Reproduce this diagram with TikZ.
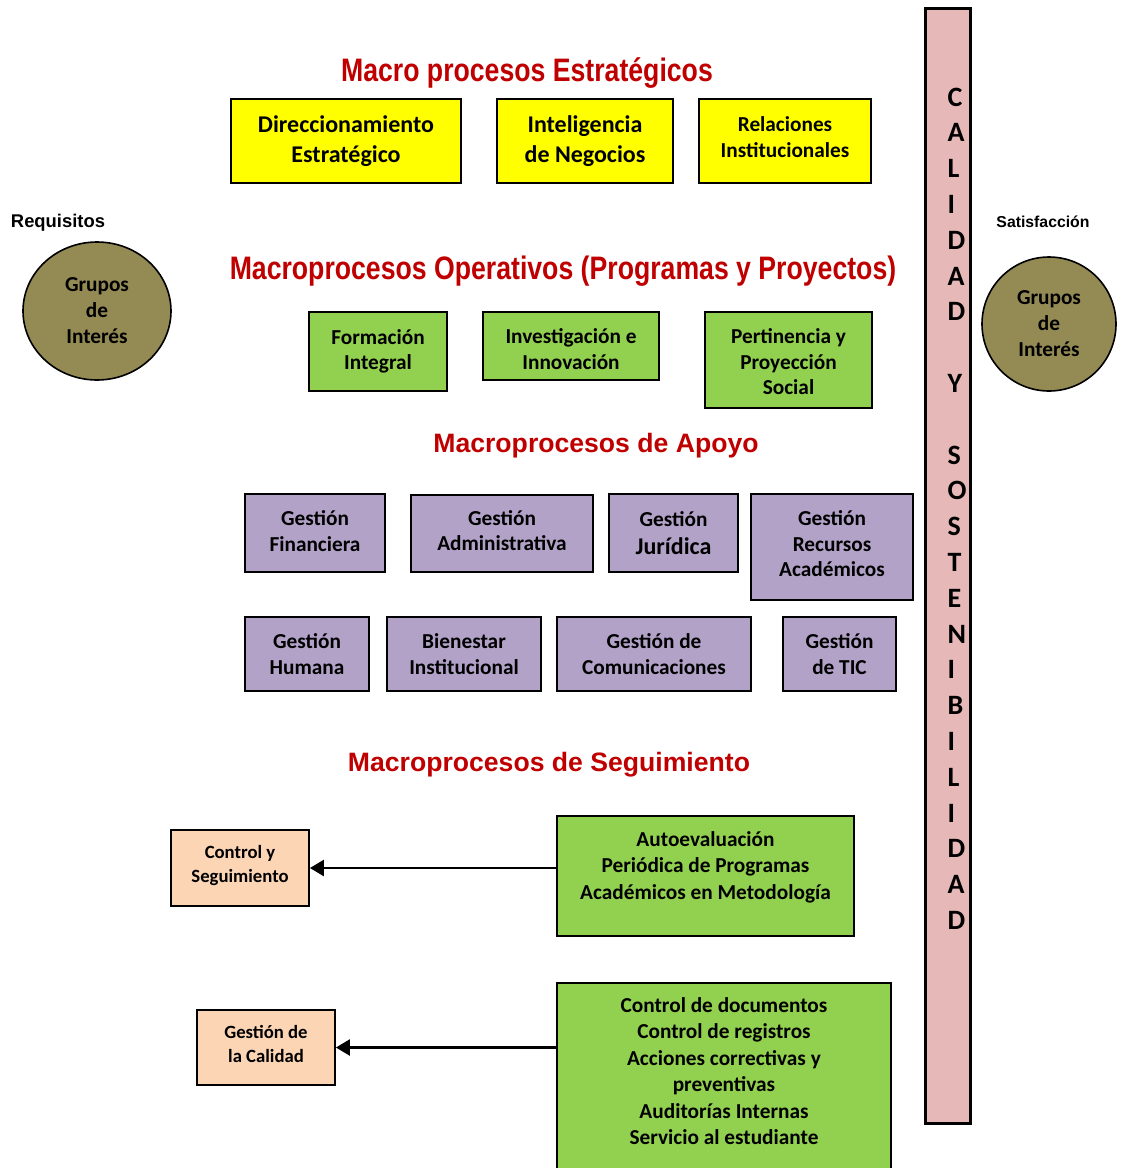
\documentclass[tikz,border=0pt]{standalone}
\usepackage{fontspec}
\setmainfont{Carlito}
\newfontfamily\arialf{Liberation Sans}
\newfontfamily\narrowf{Liberation Sans}[FakeStretch=0.82]
\usetikzlibrary{arrows.meta,shapes.geometric}
\definecolor{hred}{HTML}{C00000}
\definecolor{pinkbar}{HTML}{E6B9B8}
\definecolor{olivec}{HTML}{948A54}
\definecolor{yel}{HTML}{FFFF00}
\definecolor{grn}{HTML}{92D050}
\definecolor{purp}{HTML}{B2A2C7}
\definecolor{peach}{HTML}{FCD5B5}
\begin{document}
\begin{tikzpicture}[x=1pt,y=-1pt,
  box/.style={draw=black, line width=1.8pt, inner sep=0pt, align=center},
  ybox/.style={box, fill=yel},
  gbox/.style={box, fill=grn},
  pbox/.style={box, fill=purp},
  obox/.style={box, fill=peach},
  circ/.style={ellipse, draw=black, line width=1.6pt, fill=olivec, inner sep=0pt, align=center,
     font=\bfseries\fontsize{21.3}{26}\selectfont},
  fA/.style={font=\bfseries\fontsize{24}{30}\selectfont},
  fB/.style={font=\bfseries\fontsize{21.3}{26}\selectfont},
  fB2/.style={font=\bfseries\fontsize{21.3}{25.5}\selectfont},
  fC/.style={font=\bfseries\fontsize{18.7}{24}\selectfont},
  fL/.style={font=\bfseries\fontsize{21.3}{26.5}\selectfont},
  tx/.style={align=center, inner sep=0pt},
  headA/.style={anchor=base, text=hred, font=\narrowf\bfseries\fontsize{32.5}{36}\selectfont},
  headB/.style={anchor=base, text=hred, font=\arialf\bfseries\fontsize{26.6}{30}\selectfont},
  side/.style={anchor=base, font=\arialf\bfseries},
  vlet/.style={anchor=base west, inner sep=0pt, font=\bfseries\fontsize{28}{30}\selectfont},
  arr/.style={line width=2.4pt, -{Triangle[length=14pt,width=16pt]}}
]
\clip (0,0) rectangle (1120,1168);
\fill[white] (0,0) rectangle (1120,1168);

% vertical bar
\node[draw=black, line width=3pt, fill=pinkbar, minimum width=45, minimum height=1115, inner sep=0pt] (bar) at (947.5,565.5) {};
\foreach \l [count=\i from 0] in {C,A,L,I,D,A,D,{},Y,{},S,O,S,T,E,N,I,B,I,L,I,D,A,D}{
  \node[vlet] (v\i) at (947.5,{106+35.8*\i}) {\l};
}

% side circles
\node[side, font=\arialf\bfseries\fontsize{18.4}{20}\selectfont] (req) at (58,227) {Requisitos};
\node[circ, minimum width=148, minimum height=138] (gl) at (97,311) {Grupos\\de\\Interés};
\node[side, font=\arialf\bfseries\fontsize{15.8}{18}\selectfont] (sat) at (1043,227) {Satisfacción};
\node[circ, minimum width=134, minimum height=134] (gr) at (1049,324) {Grupos\\de\\Interés};

% headings
\node[headA] (h1) at (527,81) {Macro procesos Estratégicos};
\node[headA] (h2) at (563,279) {Macroprocesos Operativos (Programas y Proyectos)};
\node[headB] (h3) at (596,452.5) {Macroprocesos de Apoyo};
\node[headB] (h4) at (549,771.5) {Macroprocesos de Seguimiento};

% strategic
\node[ybox, fA, minimum width=230, minimum height=84] (e1) at (346,141) {Direccionamiento\\Estratégico};
\node[ybox, fA, minimum width=176, minimum height=84] (e2) at (585,141) {Inteligencia\\de Negocios};
\node[ybox, minimum width=172, minimum height=84] (e3) at (785,141) {};
\node[tx, fB] (e3t) at (785,137) {Relaciones\\Institucionales};

% operative
\node[gbox, fB2, minimum width=138, minimum height=79] (o1) at (378,351.5) {Formación\\Integral};
\node[gbox, minimum width=176, minimum height=68] (o2) at (571,346) {};
\node[tx, fB2] (o2t) at (571,349) {Investigación e\\Innovación};
\node[gbox, minimum width=167, minimum height=96] (o3) at (788.5,360) {};
\node[tx, fB2] (o3t) at (788.5,362) {Pertinencia y\\Proyección\\Social};

% support row 1
\node[pbox, minimum width=140, minimum height=78] (a1) at (315,533) {};
\node[tx, fB2] (a1t) at (315,531) {Gestión\\Financiera};
\node[pbox, minimum width=182, minimum height=77] (a2) at (502,533.5) {};
\node[tx, fB2] (a2t) at (502,530.5) {Gestión\\Administrativa};
\node[pbox, minimum width=129, minimum height=78, font=\bfseries\fontsize{21.3}{28}\selectfont] (a3) at (673.5,533) {Gestión\\{\fontsize{24}{28}\selectfont Jurídica}};
\node[pbox, minimum width=162, minimum height=106] (a4) at (832,547) {};
\node[tx, fB2] (a4t) at (832,544) {Gestión\\Recursos\\Académicos};
% support row 2
\node[pbox, fB2, minimum width=124, minimum height=74] (b1) at (307,654) {Gestión\\Humana};
\node[pbox, fB2, minimum width=154, minimum height=74] (b2) at (464,654) {Bienestar\\Institucional};
\node[pbox, fB2, minimum width=194, minimum height=74] (b3) at (654,654) {Gestión de\\Comunicaciones};
\node[pbox, fB2, minimum width=113, minimum height=74] (b4) at (839.5,654) {Gestión\\de TIC};

% monitoring
\node[obox, minimum width=138, minimum height=76] (cs) at (240,868) {};
\node[tx, fC] (cst) at (240,866) {Control y\\Seguimiento};
\node[obox, minimum width=138, minimum height=75] (cq) at (266,1047.5) {};
\node[tx, fC] (cqt) at (266,1043.5) {Gestión de\\la Calidad};
\node[gbox, minimum width=297, minimum height=120] (s1) at (705.5,876) {};
\node[tx, fL] (s1t) at (705.5,867) {Autoevaluación\\Periódica de Programas\\Académicos en Metodología};
\node[gbox, minimum width=334, minimum height=192] (s2) at (724,1079) {};
\node[tx, fL] (s2t) at (724,1071) {Control de documentos\\Control de registros\\Acciones correctivas y\\preventivas\\Auditorías Internas\\Servicio al estudiante};

\draw[arr] (s1.west |- cs.east) -- (cs.east);
\draw[arr] (s2.west |- cq.east) -- (cq.east);
\end{tikzpicture}
\end{document}
